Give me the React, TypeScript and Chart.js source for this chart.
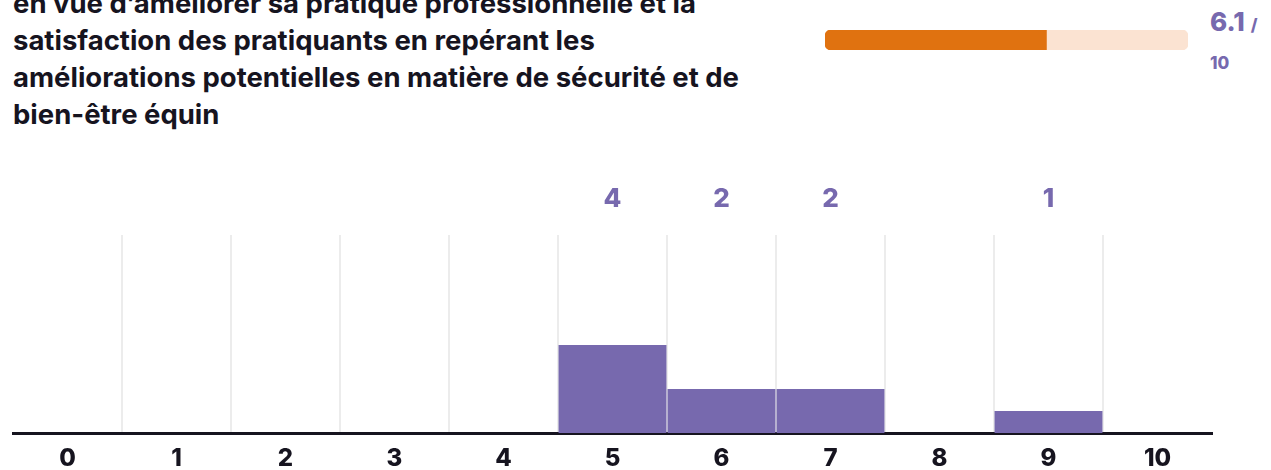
import React, { useEffect, useRef } from "react";
import { Chart, registerables } from "chart.js";

Chart.register(...registerables);

const titleLines = [
  "en vue d’améliorer sa pratique professionnelle et la",
  "satisfaction des pratiquants en repérant les",
  "améliorations potentielles en matière de sécurité et de",
  "bien-être équin",
];
const categories = ["0", "1", "2", "3", "4", "5", "6", "7", "8", "9", "10"];
const counts = [0, 0, 0, 0, 0, 4, 2, 2, 0, 1, 0];
const scoreValue = [6.1];
const scoreMax = [10];
const scoreText = "6.1";
const scoreMaxText = "10";

const FONT = "Inter, 'Noto Sans', sans-serif";
const PURPLE = "#7769ae";
const DARK = "#16141f";
const ORANGE = "#e07210";
const PEACH = "#fbe3d2";

export default function App() {
  const mainRef = useRef<HTMLCanvasElement>(null);
  const barRef = useRef<HTMLCanvasElement>(null);

  useEffect(() => {
    document.body.style.margin = "0";
    const countLabels = {
      id: "countLabels",
      afterDatasetsDraw(chart: any) {
        const ctx = chart.ctx;
        const xs = chart.scales.x;
        ctx.save();
        ctx.fillStyle = PURPLE;
        ctx.font = `800 26px ${FONT}`;
        ctx.textAlign = "center";
        ctx.textBaseline = "middle";
        counts.forEach((v, i) => {
          if (v > 0) {
            ctx.fillText(String(v), xs.getPixelForValue(i), chart.chartArea.top - 36);
          }
        });
        ctx.restore();
      },
    };
    const main = new Chart(mainRef.current!, {
      type: "bar",
      data: {
        labels: categories,
        datasets: [
          {
            data: counts,
            backgroundColor: PURPLE,
            barPercentage: 0.99,
            categoryPercentage: 1,
          },
        ],
      },
      options: {
        animation: false,
        responsive: false,
        layout: { padding: { top: 85, left: 13, right: 59, bottom: 0 } },
        plugins: { legend: { display: false }, tooltip: { enabled: false } },
        scales: {
          x: {
            offset: true,
            afterFit: (s: any) => {
              s.height = 37;
            },
            grid: {
              offset: true,
              drawTicks: false,
              lineWidth: 2,
              color: (c: any) =>
                c.index === 0 || c.index === undefined || c.type !== "tick" ? "rgba(0,0,0,0)" : "#ececec",
            },
            border: { display: true, color: DARK, width: 3 },
            ticks: {
              color: DARK,
              font: { family: FONT, size: 24, weight: "800" },
              padding: 11,
              maxRotation: 0,
            },
          },
          y: { display: false, min: 0, max: 9 },
        },
      },
      plugins: [countLabels],
    });
    const bar = new Chart(barRef.current!, {
      type: "bar",
      data: {
        labels: ["score"],
        datasets: [
          {
            data: scoreValue,
            backgroundColor: ORANGE,
            barPercentage: 1,
            categoryPercentage: 1,
            grouped: false,
            order: 0,
            borderSkipped: false,
            borderRadius: { topLeft: 6, bottomLeft: 6, topRight: 0, bottomRight: 0 },
          },
          {
            data: scoreMax,
            backgroundColor: PEACH,
            barPercentage: 1,
            categoryPercentage: 1,
            grouped: false,
            order: 1,
            borderSkipped: false,
            borderRadius: 6,
          },
        ],
      },
      options: {
        animation: false,
        responsive: false,
        indexAxis: "y",
        layout: { padding: 0 },
        plugins: { legend: { display: false }, tooltip: { enabled: false } },
        scales: {
          x: { display: false, min: 0, max: 10 },
          y: { display: false },
        },
      },
    });
    return () => {
      main.destroy();
      bar.destroy();
    };
  }, []);

  return (
    <div style={{ position: "relative", width: 1271, height: 470, overflow: "hidden", background: "#fff" }}>
      <div
        style={{
          position: "absolute",
          left: 13,
          top: -15,
          fontFamily: FONT,
          fontWeight: 700,
          fontSize: 27.5,
          lineHeight: "37px",
          color: DARK,
          whiteSpace: "nowrap",
        }}
      >
        {titleLines.map((l, i) => (
          <div key={i}>{l}</div>
        ))}
      </div>
      <canvas ref={barRef} width={363} height={20} style={{ position: "absolute", left: 825, top: 30 }} />
      <div
        style={{
          position: "absolute",
          left: 1210,
          top: 3,
          fontFamily: FONT,
          fontWeight: 800,
          color: PURPLE,
          whiteSpace: "nowrap",
        }}
      >
        <div style={{ lineHeight: "38px" }}>
          <span style={{ fontSize: 26 }}>{scoreText}</span>
          <span style={{ fontSize: 17, marginLeft: 6 }}>/</span>
        </div>
        <div style={{ fontSize: 17, lineHeight: "22px", marginTop: 8 }}>{scoreMaxText}</div>
      </div>
      <canvas ref={mainRef} width={1271} height={320} style={{ position: "absolute", left: 0, top: 150 }} />
    </div>
  );
}
